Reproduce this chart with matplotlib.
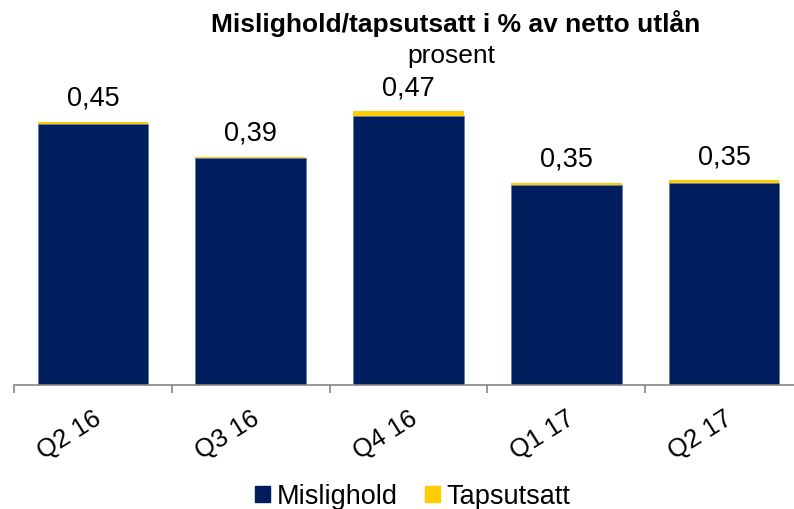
import matplotlib.pyplot as plt
from matplotlib.patches import Patch

plt.rcParams['font.family'] = ['Liberation Sans', 'DejaVu Sans']

quarters = ['Q2 16', 'Q3 16', 'Q4 16', 'Q1 17', 'Q2 17']
mislighold = [0.446, 0.388, 0.460, 0.342, 0.346]
tapsutsatt = [0.004, 0.002, 0.008, 0.004, 0.004]

navy = '#001E5E'
yellow = '#FFCC00'
grey = '#868686'

fig = plt.figure(figsize=(7.94, 5.10), dpi=100)
ax = fig.add_axes([14 / 794, 1 - 386 / 510, 789 / 794, 0.631])

x = range(len(quarters))
ax.bar(x, mislighold, width=0.70, color=navy, edgecolor='#5A6E9A', linewidth=0.4)
ax.bar(x, tapsutsatt, width=0.70, bottom=mislighold, color=yellow, linewidth=0)

for i in x:
    total = mislighold[i] + tapsutsatt[i]
    ax.annotate(f'{total:.2f}'.replace('.', ','), (i, total), xytext=(0, 8),
                textcoords='offset points', ha='center', va='bottom', fontsize=19.5)

ax.set_xlim(-0.5, 4.5)
ax.set_ylim(0, 0.55)
ax.set_yticks([])
for side in ['left', 'right', 'top']:
    ax.spines[side].set_visible(False)
ax.spines['bottom'].set_color(grey)
ax.spines['bottom'].set_linewidth(1.2)

ax.set_xticks(list(x))
ax.set_xticklabels(quarters, rotation=32, ha='right', rotation_mode='anchor', fontsize=18.5)
ax.tick_params(axis='x', which='major', length=0, pad=15)
ax.set_xticks([i - 0.5 for i in range(len(quarters) + 1)], minor=True)
ax.tick_params(axis='x', which='minor', length=6, color=grey, width=1.2)

fig.text(0.574, 1 - 32 / 510, 'Mislighold/tapsutsatt i % av netto utlån',
         ha='center', va='baseline', fontsize=19, fontweight='bold')
fig.text(0.568, 1 - 63 / 510, 'prosent', ha='center', va='baseline', fontsize=19)

handles = [Patch(color=navy, label='Mislighold'), Patch(color=yellow, label='Tapsutsatt')]
fig.legend(handles=handles, loc='center', bbox_to_anchor=(0.52, 0.025), ncol=2,
           frameon=False, fontsize=19.5, handlelength=0.55, handleheight=0.55,
           handletextpad=0.25, columnspacing=1.0, borderpad=0)

fig.savefig('out.png', dpi=100)
